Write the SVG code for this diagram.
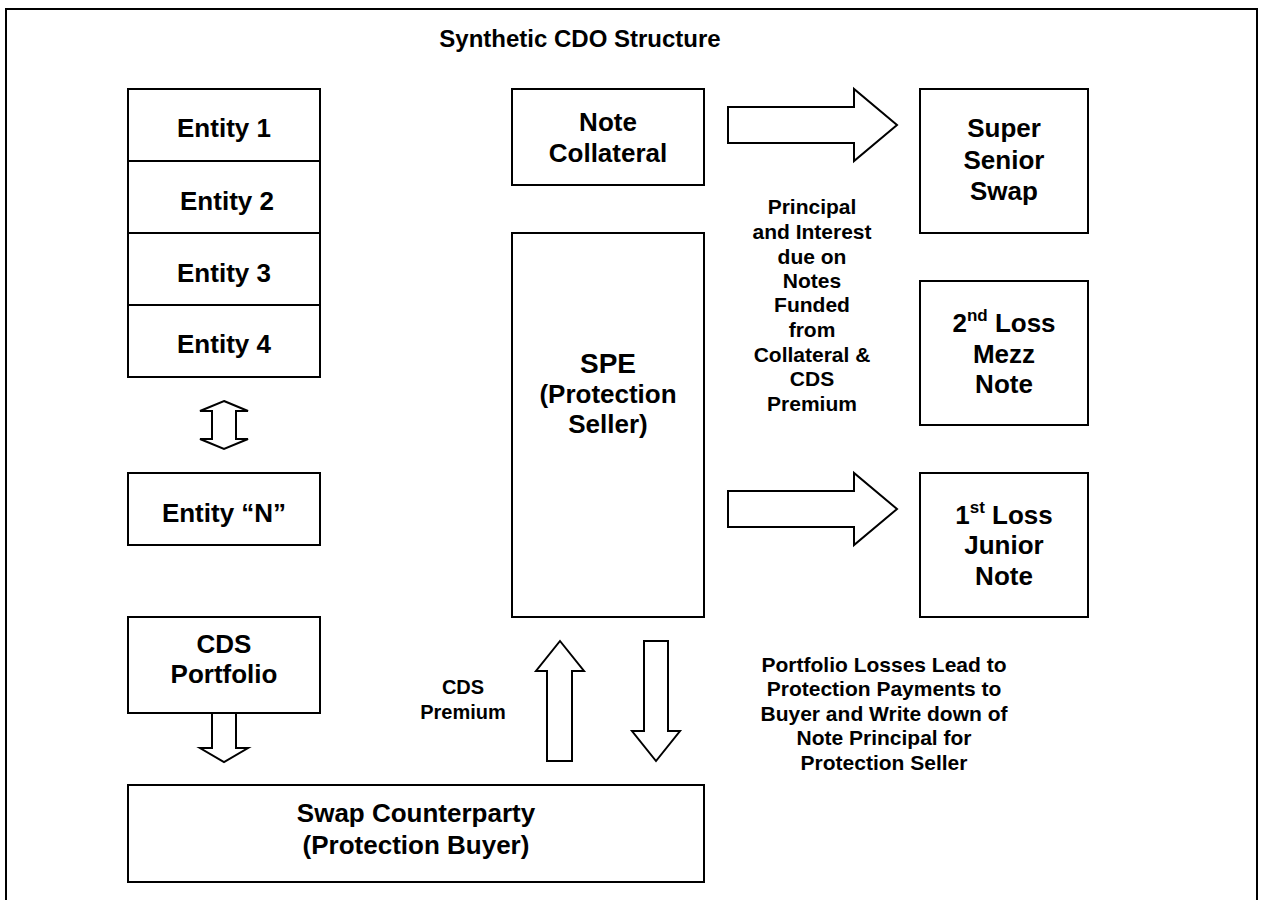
<svg xmlns="http://www.w3.org/2000/svg" width="1261" height="900" viewBox="0 0 1261 900">
<style>
.box{fill:#fff;stroke:#000;stroke-width:2}
.arr{fill:#fff;stroke:#000;stroke-width:2;stroke-linejoin:miter}
text{font-family:"Liberation Sans",Arial,sans-serif;font-weight:bold;fill:#000;text-anchor:middle}
.t26{font-size:26px}
.t21{font-size:21px}
.t20{font-size:20px}
</style>
<rect x="0" y="0" width="1261" height="900" fill="#fff"/>
<rect x="6" y="9" width="1251" height="905" fill="none" stroke="#000" stroke-width="2"/>
<text x="580" y="47" style="font-size:24px">Synthetic CDO Structure</text>

<g id="entity1"><rect class="box" x="128" y="89" width="192" height="72"/><text class="t26" x="224" y="137">Entity 1</text></g>
<g id="entity2"><rect class="box" x="128" y="161" width="192" height="72"/><text class="t26" x="227" y="210">Entity 2</text></g>
<g id="entity3"><rect class="box" x="128" y="233" width="192" height="72"/><text class="t26" x="224" y="282">Entity 3</text></g>
<g id="entity4"><rect class="box" x="128" y="305" width="192" height="72"/><text class="t26" x="224" y="353">Entity 4</text></g>
<g id="entityN"><rect class="box" x="128" y="473" width="192" height="72"/><text class="t26" x="224" y="522">Entity “N”</text></g>
<g id="cdsPortfolio"><rect class="box" x="128" y="617" width="192" height="96"/><text class="t26" x="224" y="653">CDS</text><text class="t26" x="224" y="683">Portfolio</text></g>
<g id="swapCounterparty"><rect class="box" x="128" y="785" width="576" height="97"/><text class="t26" x="416" y="822">Swap Counterparty</text><text class="t26" x="416" y="854">(Protection Buyer)</text></g>
<g id="noteCollateral"><rect class="box" x="512" y="89" width="192" height="96"/><text class="t26" x="608" y="131">Note</text><text class="t26" x="608" y="162">Collateral</text></g>
<g id="spe"><rect class="box" x="512" y="233" width="192" height="384"/><text x="608" y="373" style="font-size:28px">SPE</text><text class="t26" x="608" y="403">(Protection</text><text class="t26" x="608" y="433">Seller)</text></g>
<g id="superSenior"><rect class="box" x="920" y="89" width="168" height="144"/><text class="t26" x="1004" y="137">Super</text><text class="t26" x="1004" y="169">Senior</text><text class="t26" x="1004" y="200">Swap</text></g>
<g id="mezz"><rect class="box" x="920" y="281" width="168" height="144"/><text class="t26" x="1004" y="332">2<tspan style="font-size:17px" dy="-11">nd</tspan><tspan dy="11"> Loss</tspan></text><text class="t26" x="1004" y="363">Mezz</text><text class="t26" x="1004" y="393">Note</text></g>
<g id="junior"><rect class="box" x="920" y="473" width="168" height="144"/><text class="t26" x="1004" y="524">1<tspan style="font-size:17px" dy="-11">st</tspan><tspan dy="11"> Loss</tspan></text><text class="t26" x="1004" y="554">Junior</text><text class="t26" x="1004" y="585">Note</text></g>

<g id="connectors">
<polygon class="arr" points="224,401 248,411 236,411 236,439 248,439 224,449 200,439 212,439 212,411 200,411"/>
<polygon class="arr" points="728,107 854,107 854,89 897,125 854,161 854,143 728,143"/>
<polygon class="arr" points="728,491 854,491 854,473 897,509 854,545 854,527 728,527"/>
<polygon class="arr" points="560,641 584,671 572,671 572,761 547,761 547,671 536,671"/>
<polygon class="arr" points="644,641 668,641 668,731 680,731 656,761 632,731 644,731"/>
<polygon class="arr" points="212,713 236,713 236,748 248,748 224,762 200,748 212,748"/>
</g>

<g id="labels">
<text class="t21" x="812" y="214">Principal</text>
<text class="t21" x="812" y="239">and Interest</text>
<text class="t21" x="812" y="264">due on</text>
<text class="t21" x="812" y="288">Notes</text>
<text class="t21" x="812" y="312">Funded</text>
<text class="t21" x="812" y="337">from</text>
<text class="t21" x="812" y="362">Collateral &amp;</text>
<text class="t21" x="812" y="386">CDS</text>
<text class="t21" x="812" y="411">Premium</text>
<text class="t20" x="463" y="694">CDS</text>
<text class="t20" x="463" y="719">Premium</text>
<text class="t21" x="884" y="672">Portfolio Losses Lead to</text>
<text class="t21" x="884" y="696">Protection Payments to</text>
<text class="t21" x="884" y="721">Buyer and Write down of</text>
<text class="t21" x="884" y="745">Note Principal for</text>
<text class="t21" x="884" y="770">Protection Seller</text>
</g>
</svg>
